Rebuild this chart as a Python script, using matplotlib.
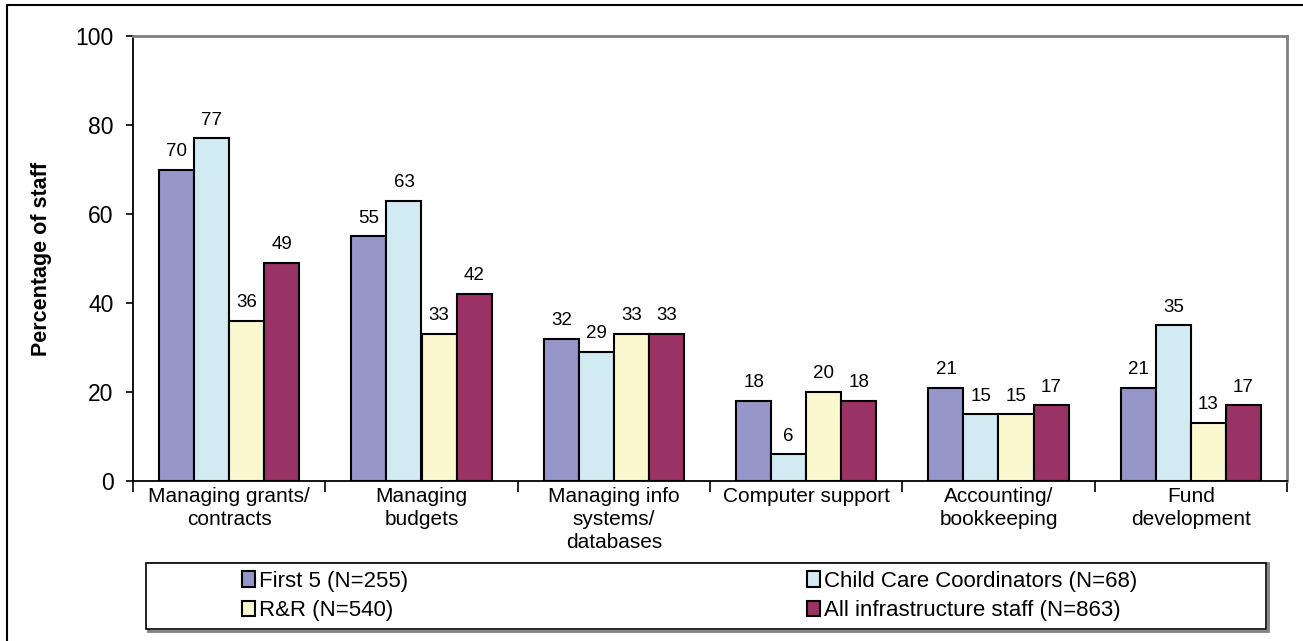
import matplotlib
matplotlib.use("Agg")
import matplotlib.pyplot as plt
from matplotlib.patches import Rectangle
import numpy as np

plt.rcParams['font.family'] = ['Liberation Sans', 'DejaVu Sans']

categories = ["Managing grants/\ncontracts", "Managing\nbudgets",
              "Managing info\nsystems/\ndatabases", "Computer support",
              "Accounting/\nbookkeeping", "Fund\ndevelopment"]
series_names = ["First 5 (N=255)", "Child Care Coordinators (N=68)",
                "R&R (N=540)", "All infrastructure staff (N=863)"]
first5 = [70, 55, 32, 18, 21, 21]
ccc = [77, 63, 29, 6, 15, 35]
rr = [36, 33, 33, 20, 15, 13]
all_staff = [49, 42, 33, 18, 17, 17]
yticks = [0, 20, 40, 60, 80, 100]

colors = ["#9696C8", "#D2EBF2", "#FBF8CF", "#993366"]
series = [first5, ccc, rr, all_staff]

W, H = 1303, 641
fig = plt.figure(figsize=(W/100, H/100), dpi=100)
ax = fig.add_axes([133/W, 1-481/H, (1287-133)/W, (481-36)/H])

x = np.arange(len(categories))
bw = 0.182
offsets = (np.arange(4) - 1.5) * bw
handles = []
for i, (vals, c) in enumerate(zip(series, colors)):
    bars = ax.bar(x + offsets[i], vals, bw, color=c, edgecolor='black',
                  linewidth=1.5, label=series_names[i], zorder=3)
    handles.append(bars)
    for xi, v in zip(x + offsets[i], vals):
        ax.annotate(str(v), (xi, v), xytext=(0, 7), textcoords='offset points',
                    ha='center', va='bottom', fontsize=13.5)

ax.set_xlim(-0.5, len(categories) - 0.5)
ax.set_ylim(0, 100)
ax.set_yticks(yticks)
ax.set_yticklabels([str(t) for t in yticks], fontsize=16.5)
ax.set_xticks(x)
ax.set_xticklabels(categories, fontsize=15, linespacing=1.27)
ax.tick_params(axis='x', length=0, pad=4)
ax.set_xticks(np.arange(len(categories) + 1) - 0.5, minor=True)
ax.tick_params(axis='x', which='minor', length=8, width=1.2, direction='out')
ax.tick_params(axis='y', length=5, width=1.2, direction='out', pad=9)

for s in ['top', 'right']:
    ax.spines[s].set_color('#808080')
    ax.spines[s].set_linewidth(2)
for s in ['left', 'bottom']:
    ax.spines[s].set_color('black')
    ax.spines[s].set_linewidth(1.3)

ax.set_ylabel("Percentage of staff", fontsize=15.5, fontweight='bold')
ax.yaxis.set_label_coords(-(133-52)/(1287-133), 0.5)

# legend frame
fig.patches.append(Rectangle((148/W, 1-631/H), (1268-148)/W, (631-563)/H,
                             transform=fig.transFigure, facecolor='white',
                             edgecolor='#808080', linewidth=2, zorder=1))
fig.patches.append(Rectangle((146/W, 1-629/H), (1266-146)/W, (629-563)/H,
                             transform=fig.transFigure, facecolor='white',
                             edgecolor='black', linewidth=1.2, zorder=2))
legkw = dict(loc='center left', frameon=False, fontsize=16, handlelength=0.6,
             handleheight=0.7, handletextpad=0.15, labelspacing=0.38, borderpad=0,
             borderaxespad=0)
leg1 = fig.legend([handles[0], handles[2]], [series_names[0], series_names[2]],
                  bbox_to_anchor=(242/W, 1-596/H), **legkw)
leg2 = fig.legend([handles[1], handles[3]], [series_names[1], series_names[3]],
                  bbox_to_anchor=(807/W, 1-596/H), **legkw)

# outer border
fig.patches.append(Rectangle((7/W, -0.05), 1.1, 1-5/H + 0.05,
                             transform=fig.transFigure, facecolor='none',
                             edgecolor='black', linewidth=1.5, zorder=0))

fig.savefig("out.png", dpi=100)
